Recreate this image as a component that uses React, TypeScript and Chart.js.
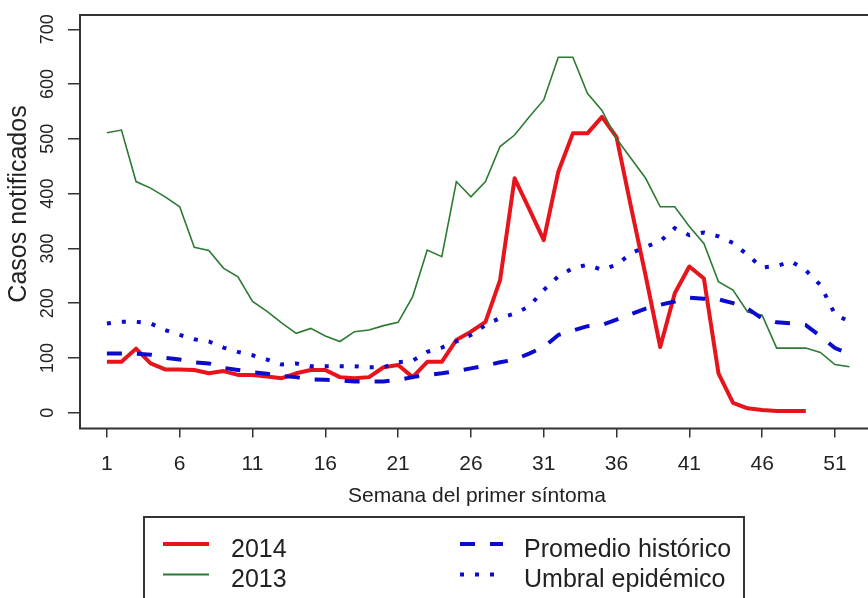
import React, { useEffect, useRef } from 'react';
import { Chart, registerables } from 'chart.js';

Chart.register(...registerables);

const WEEKS = [
  1, 2, 3, 4, 5, 6, 7, 8, 9, 10, 11, 12, 13, 14, 15, 16, 17, 18, 19, 20, 21, 22, 23, 24, 25, 26,
  27, 28, 29, 30, 31, 32, 33, 34, 35, 36, 37, 38, 39, 40, 41, 42, 43, 44, 45, 46, 47, 48, 49, 50, 51, 52,
];
const X_TICKS = [1, 6, 11, 16, 21, 26, 31, 36, 41, 46, 51];
const Y_TICKS = [0, 100, 200, 300, 400, 500, 600, 700];

const CASES_2014 = [
  93, 93, 117, 90, 79, 79, 78, 72, 76, 69, 69, 66, 63, 72, 78, 78, 65, 63, 65, 83, 87, 65, 93, 93,
  133, 148, 166, 242, 428, 372, 315, 440, 510, 510, 540, 503, 375, 250, 120, 218, 267, 245, 72, 18,
  8, 5, 3, 3, 3,
];
const CASES_2013 = [
  511, 516, 422, 410, 394, 376, 302, 296, 264, 248, 203, 185, 164, 145, 154, 140, 130, 148, 151, 159,
  165, 212, 297, 285, 422, 394, 422, 486, 507, 540, 571, 649, 649, 583, 552, 500, 464, 428, 376, 376,
  340, 309, 239, 224, 184, 178, 118, 118, 118, 110, 88, 84,
];
const PROMEDIO_HISTORICO = [
  108, 108, 108, 106, 100, 97, 92, 90, 82, 78, 74, 71, 67, 65, 61, 60, 59, 57, 57, 57, 60, 65, 69, 72,
  76, 81, 86, 92, 97, 108, 120, 142, 150, 158, 160, 170, 180, 190, 197, 203, 210, 208, 207, 200, 190,
  172, 165, 163, 160, 140, 118, 108,
];
const UMBRAL_EPIDEMICO = [
  163, 166, 166, 163, 151, 142, 134, 130, 119, 111, 105, 97, 88, 90, 85, 85, 85, 85, 83, 83, 92, 95,
  111, 119, 130, 142, 160, 173, 181, 194, 224, 249, 264, 270, 261, 270, 291, 303, 313, 337, 324, 329,
  322, 310, 288, 265, 268, 276, 260, 233, 180, 166,
];

const SERIES_LABELS = ['2014', '2013', 'Promedio histórico', 'Umbral epidémico'];
const X_TITLE = 'Semana del primer síntoma';
const Y_TITLE = 'Casos notificados';

const FONT = '"Liberation Sans", Arial, sans-serif';
const RED = '#e8141c';
const GREEN = '#2c7a33';
const BLUE = '#0b0bcf';
const INK = '#222222';
const FRAME = '#333333';

const toPoints = (vals: number[]) => vals.map((v, i) => ({ x: WEEKS[i], y: v }));

const decorPlugin = {
  id: 'decor',
  afterDraw(chart: any) {
    const { ctx, chartArea: a, scales } = chart;
    ctx.save();
    // R-style box (right side is outside the picture)
    ctx.strokeStyle = FRAME;
    ctx.lineWidth = 2;
    ctx.setLineDash([]);
    ctx.beginPath();
    ctx.moveTo(a.right + 5, a.top);
    ctx.lineTo(a.left, a.top);
    ctx.lineTo(a.left, a.bottom);
    ctx.lineTo(a.right + 5, a.bottom);
    ctx.stroke();

    // rotated y tick labels
    ctx.fillStyle = INK;
    ctx.font = `18px ${FONT}`;
    ctx.textAlign = 'center';
    ctx.textBaseline = 'alphabetic';
    Y_TICKS.forEach((v) => {
      const y = scales.y.getPixelForValue(v);
      ctx.save();
      ctx.translate(53, y);
      ctx.rotate(-Math.PI / 2);
      ctx.fillText(String(v), 0, 0);
      ctx.restore();
    });

    // y title
    ctx.font = `25px ${FONT}`;
    ctx.save();
    ctx.translate(26, 204);
    ctx.rotate(-Math.PI / 2);
    ctx.fillText(Y_TITLE, 0, 0);
    ctx.restore();

    // x title
    ctx.font = `21px ${FONT}`;
    ctx.fillText(X_TITLE, 477, 502);

    // legend box
    ctx.strokeStyle = FRAME;
    ctx.lineWidth = 2;
    ctx.strokeRect(144, 517, 600, 100);

    const sample = (x0: number, x1: number, y: number, color: string, w: number, dash: number[]) => {
      ctx.save();
      ctx.strokeStyle = color;
      ctx.lineWidth = w;
      ctx.lineCap = 'butt';
      ctx.setLineDash(dash);
      ctx.beginPath();
      ctx.moveTo(x0, y);
      ctx.lineTo(x1, y);
      ctx.stroke();
      ctx.restore();
    };
    sample(163, 209, 544, RED, 4, []);
    sample(163, 209, 574.5, GREEN, 2, []);
    sample(460, 503, 544, BLUE, 4, [15, 15]);
    sample(460, 503, 574.5, BLUE, 4, [4, 11]);

    ctx.fillStyle = INK;
    ctx.font = `25px ${FONT}`;
    ctx.textAlign = 'left';
    ctx.fillText(SERIES_LABELS[0], 231, 556.5);
    ctx.fillText(SERIES_LABELS[1], 231, 586.5);
    ctx.fillText(SERIES_LABELS[2], 524, 556.5);
    ctx.fillText(SERIES_LABELS[3], 524, 586.5);
    ctx.restore();
  },
};

export default function App() {
  const ref = useRef<HTMLCanvasElement>(null);

  useEffect(() => {
    if (!ref.current) return;
    const chart = new Chart(ref.current, {
      type: 'line',
      data: {
        datasets: [
          {
            label: SERIES_LABELS[3],
            data: toPoints(UMBRAL_EPIDEMICO),
            borderColor: BLUE,
            borderWidth: 4,
            borderDash: [4, 11],
            borderCapStyle: 'butt',
            pointRadius: 0,
            tension: 0,
          },
          {
            label: SERIES_LABELS[2],
            data: toPoints(PROMEDIO_HISTORICO),
            borderColor: BLUE,
            borderWidth: 4,
            borderDash: [15, 15],
            borderCapStyle: 'butt',
            pointRadius: 0,
            tension: 0,
          },
          {
            label: SERIES_LABELS[1],
            data: toPoints(CASES_2013),
            borderColor: GREEN,
            borderWidth: 1.6,
            pointRadius: 0,
            tension: 0,
          },
          {
            label: SERIES_LABELS[0],
            data: toPoints(CASES_2014),
            borderColor: RED,
            borderWidth: 4,
            borderJoinStyle: 'round',
            pointRadius: 0,
            tension: 0,
          },
        ],
      },
      options: {
        responsive: false,
        animation: false,
        events: [],
        layout: { padding: { top: 15, left: 0, right: 0, bottom: 0 } },
        plugins: { legend: { display: false }, tooltip: { enabled: false } },
        scales: {
          x: {
            type: 'linear',
            min: -0.848,
            max: 53.27,
            afterBuildTicks: (s: any) => {
              s.ticks = X_TICKS.map((v) => ({ value: v }));
            },
            afterFit: (s: any) => {
              s.height = 169.5;
            },
            grid: { drawOnChartArea: false, tickLength: 9, color: FRAME, lineWidth: 1.5 },
            border: { display: false },
            ticks: {
              autoSkip: false,
              maxRotation: 0,
              padding: 14,
              color: INK,
              font: { family: FONT, size: 21 },
              callback: (v: any) => String(v),
            },
          },
          y: {
            type: 'linear',
            min: -28.8,
            max: 726.1,
            afterBuildTicks: (s: any) => {
              s.ticks = Y_TICKS.map((v) => ({ value: v }));
            },
            afterFit: (s: any) => {
              s.width = 80;
            },
            grid: { drawOnChartArea: false, tickLength: 12, color: FRAME, lineWidth: 1.5 },
            border: { display: false },
            ticks: { display: false },
          },
        },
      },
      plugins: [decorPlugin],
    });
    return () => chart.destroy();
  }, []);

  return (
    <div style={{ position: 'fixed', left: 0, top: 0, width: 868, height: 598, overflow: 'hidden', background: '#fff' }}>
      <canvas ref={ref} width={868} height={598} style={{ display: 'block', width: 868, height: 598 }} />
    </div>
  );
}
